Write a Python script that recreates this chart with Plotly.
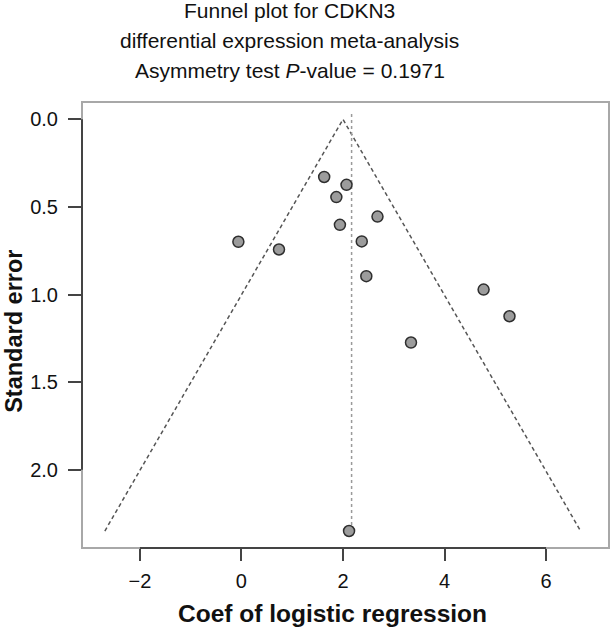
import plotly.graph_objects as go

# Study estimates (coefficient of logistic regression) and standard errors
coef = [1.63, 2.07, 1.87, 2.68, 1.94, -0.06, 2.37, 0.74, 2.46, 4.77, 5.28, 3.34, 2.12]
se = [0.329, 0.374, 0.444, 0.555, 0.602, 0.699, 0.697, 0.743, 0.895, 0.972, 1.124, 1.274, 2.35]

# Funnel (pseudo confidence region) endpoints and summary estimate line
funnel_x = [-2.69, 2.0, 6.68]
funnel_se = [2.35, 0.0, 2.35]
summary_x = [2.17, 2.17]
summary_se = [-0.03, 2.35]

x_ticks = [-2, 0, 2, 4, 6]
x_tick_labels = ["\u22122", "0", "2", "4", "6"]
y_ticks = [0.0, 0.5, 1.0, 1.5, 2.0]
y_tick_labels = ["0.0", "0.5", "1.0", "1.5", "2.0"]

title_lines = ["Funnel plot for CDKN3",
               "differential expression meta-analysis",
               "Asymmetry test <i>P</i>-value = 0.1971"]

FONT = "Liberation Sans, Arial, sans-serif"
W, H = 612, 630
ML, MR, MT, MB = 82, 2.5, 102, 81.5
PW, PH = W - ML - MR, H - MT - MB

fig = go.Figure()
fig.add_trace(go.Scatter(x=funnel_x, y=funnel_se, mode="lines",
                         line=dict(color="#555555", width=1.5, dash="4px,3px"),
                         hoverinfo="skip", showlegend=False))
fig.add_trace(go.Scatter(x=summary_x, y=summary_se, mode="lines",
                         line=dict(color="#9a9a9a", width=1.5, dash="dot"),
                         hoverinfo="skip", showlegend=False))
fig.add_trace(go.Scatter(x=coef, y=se, mode="markers",
                         marker=dict(size=11, color="#9c9c9c",
                                     line=dict(color="#2e2e2e", width=1.5)),
                         showlegend=False, cliponaxis=False))

fig.update_xaxes(range=[-3.14, 7.24], tickvals=x_ticks, ticktext=x_tick_labels,
                 ticks="outside", ticklen=12, tickwidth=2, tickcolor="#444444",
                 ticklabelstandoff=3,
                 showgrid=False, zeroline=False, showline=False,
                 tickfont=dict(family=FONT, size=20, color="#111111"))
fig.update_yaxes(range=[2.447, -0.099], tickvals=y_ticks, ticktext=y_tick_labels,
                 ticks="outside", ticklen=13, tickwidth=2, tickcolor="#444444",
                 ticklabelstandoff=6,
                 showgrid=False, zeroline=False, showline=False,
                 tickfont=dict(family=FONT, size=20, color="#111111"))

# Plot frame (light grey box)
fig.add_shape(type="rect", xref="paper", yref="paper", x0=0, x1=1, y0=0, y1=1,
              line=dict(color="#a8a8a8", width=2), layer="above")
# Darker axis segments spanning the tick range
fig.add_shape(type="line", xref="x", yref="paper", x0=x_ticks[0], x1=x_ticks[-1],
              y0=0, y1=0, line=dict(color="#444444", width=2), layer="above")
fig.add_shape(type="line", xref="paper", yref="y", x0=0, x1=0,
              y0=y_ticks[0], y1=y_ticks[-1], line=dict(color="#444444", width=2), layer="above")

fig.add_annotation(text="Coef of logistic regression", xref="paper", yref="paper",
                   x=(333 - ML) / PW, y=-(614 - (H - MB)) / PH,
                   showarrow=False, xanchor="center", yanchor="middle",
                   font=dict(family=FONT, size=24.5, color="#111111", weight="bold"))
fig.add_annotation(text="Standard error", xref="paper", yref="paper",
                   x=-(ML - 14) / PW, y=1 - (332 - MT) / PH,
                   textangle=-90, showarrow=False, xanchor="center", yanchor="middle",
                   font=dict(family=FONT, size=23.5, color="#111111", weight="bold"))

for i, line in enumerate(title_lines):
    cy = 10 + 30 * i
    fig.add_annotation(text=line, xref="paper", yref="paper",
                       x=(290 - ML) / PW, y=1 + (MT - cy) / PH,
                       showarrow=False, xanchor="center", yanchor="middle",
                       font=dict(family=FONT, size=21, color="#111111"))

fig.update_layout(
    width=W, height=H,
    margin=dict(l=ML, r=MR, t=MT, b=MB),
    plot_bgcolor="white", paper_bgcolor="white",
)

fig.write_html("out.html", config={"displayModeBar": False},
               post_script="document.body.style.margin='0';")
